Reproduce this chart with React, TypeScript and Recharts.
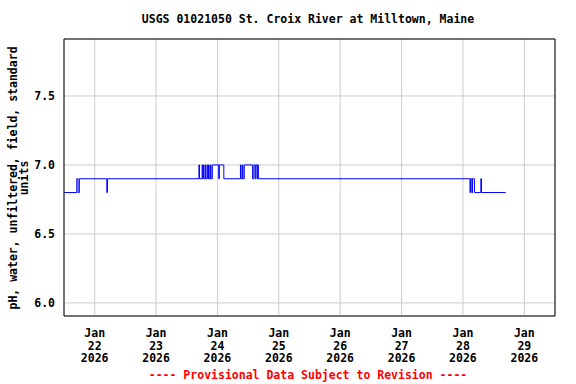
import React from "react";
import {
  LineChart,
  Line,
  XAxis,
  YAxis,
  CartesianGrid,
  ReferenceLine,
} from "recharts";

// change points of the 15-minute pH record (value holds until next time)
const times = [
  "2026-01-21T12:00",
  "2026-01-21T17:00",
  "2026-01-21T17:30",
  "2026-01-21T18:00",
  "2026-01-22T04:45",
  "2026-01-22T05:00",
  "2026-01-23T16:45",
  "2026-01-23T17:00",
  "2026-01-23T18:00",
  "2026-01-23T18:15",
  "2026-01-23T18:30",
  "2026-01-23T18:45",
  "2026-01-23T19:15",
  "2026-01-23T19:30",
  "2026-01-23T20:00",
  "2026-01-23T20:15",
  "2026-01-23T20:30",
  "2026-01-23T20:45",
  "2026-01-23T21:15",
  "2026-01-23T21:30",
  "2026-01-23T22:00",
  "2026-01-24T00:30",
  "2026-01-24T00:45",
  "2026-01-24T02:30",
  "2026-01-24T09:00",
  "2026-01-24T09:15",
  "2026-01-24T09:45",
  "2026-01-24T10:00",
  "2026-01-24T10:30",
  "2026-01-24T13:45",
  "2026-01-24T14:15",
  "2026-01-24T14:45",
  "2026-01-24T15:00",
  "2026-01-24T15:30",
  "2026-01-24T15:45",
  "2026-01-24T16:00",
  "2026-01-28T02:45",
  "2026-01-28T03:00",
  "2026-01-28T03:30",
  "2026-01-28T03:45",
  "2026-01-28T04:30",
  "2026-01-28T07:00",
  "2026-01-28T07:15",
  "2026-01-28T16:45",
];

const phValues = [
  6.8, 6.9, 6.8, 6.9, 6.8, 6.9,
  7.0, 6.9, 7.0, 6.9, 7.0, 6.9, 7.0, 6.9, 7.0, 6.9, 7.0, 6.9, 7.0, 6.9,
  7.0, 6.9, 7.0, 6.9,
  7.0, 6.9, 7.0, 6.9, 7.0, 6.9, 7.0, 6.9, 7.0, 6.9, 7.0, 6.9,
  6.8, 6.9, 6.8, 6.9, 6.8, 6.9, 6.8, 6.8,
];

const tickDays = [
  "2026-01-22",
  "2026-01-23",
  "2026-01-24",
  "2026-01-25",
  "2026-01-26",
  "2026-01-27",
  "2026-01-28",
  "2026-01-29",
];

const yTicks = [6.0, 6.5, 7.0, 7.5];
const yDomain = [5.905, 7.913];

const toMs = (s: string) => Date.parse(s.length === 10 ? s + "T00:00:00Z" : s + ":00Z");

const data = times.map((t, i) => ({ t: toMs(t), v: phValues[i] }));
const xTicks = tickDays.map(toMs);
const xDomain = [toMs("2026-01-21T12:00"), toMs("2026-01-29T12:00")];

const MONTHS = ["Jan", "Feb", "Mar", "Apr", "May", "Jun", "Jul", "Aug", "Sep", "Oct", "Nov", "Dec"];
const FONT = "'DejaVu Sans Mono', monospace";

function DateTick(props: any) {
  const { x, y, payload } = props;
  const d = new Date(payload.value);
  return (
    <text
      x={x}
      y={y}
      textAnchor="middle"
      fontFamily={FONT}
      fontWeight="bold"
      fontSize={11.5}
      fill="#000"
    >
      <tspan x={x} y={y + 19}>{MONTHS[d.getUTCMonth()]}</tspan>
      <tspan x={x} y={y + 31.5}>{d.getUTCDate()}</tspan>
      <tspan x={x} y={y + 44}>{d.getUTCFullYear()}</tspan>
    </text>
  );
}

export default function App() {
  return (
    <div style={{ position: "absolute", left: 0, top: 0, width: 576, height: 384, background: "#fff" }}>
      <LineChart
        width={576}
        height={384}
        data={data}
        margin={{ top: 39, right: 21, left: 0, bottom: 0 }}
      >
        <CartesianGrid stroke="#cccccc" strokeWidth={1} />
        <XAxis
          dataKey="t"
          type="number"
          scale="time"
          domain={xDomain}
          ticks={xTicks}
          allowDataOverflow
          height={68}
          tickLine={false}
          tickSize={0}
          axisLine={{ stroke: "#000" }}
          tick={<DateTick />}
          interval={0}
        />
        <YAxis
          dataKey="v"
          type="number"
          domain={yDomain}
          ticks={yTicks}
          allowDataOverflow
          width={64}
          tickLine={false}
          tickSize={6}
          tickMargin={3}
          axisLine={{ stroke: "#000" }}
          tickFormatter={(v) => v.toFixed(1)}
          tick={{ fontFamily: FONT, fontWeight: "bold", fontSize: 11.5, fill: "#000" }}
        />
        <ReferenceLine y={yDomain[1]} stroke="#000" strokeWidth={1} />
        <ReferenceLine x={xDomain[1]} stroke="#000" strokeWidth={1} />
        <Line
          type="stepAfter"
          dataKey="v"
          stroke="#0000ff"
          strokeWidth={1}
          dot={false}
          isAnimationActive={false}
        />
      </LineChart>
      <svg
        width={576}
        height={384}
        style={{ position: "absolute", left: 0, top: 0, pointerEvents: "none" }}
      >
        <text
          x={308}
          y={23}
          textAnchor="middle"
          fontFamily={FONT}
          fontWeight="bold"
          fontSize={11.5}
          fill="#000"
        >
          USGS 01021050 St. Croix River at Milltown, Maine
        </text>
        <text
          transform="translate(17,178) rotate(-90)"
          textAnchor="middle"
          fontFamily={FONT}
          fontWeight="bold"
          fontSize={11.5}
          fill="#000"
        >
          <tspan x={0} y={0}>pH, water, unfiltered, field, standard</tspan>
          <tspan x={0} y={11}>units</tspan>
        </text>
        <text
          x={308}
          y={379}
          textAnchor="middle"
          fontFamily={FONT}
          fontWeight="bold"
          fontSize={11.5}
          fill="#ff0000"
        >
          ---- Provisional Data Subject to Revision ----
        </text>
      </svg>
    </div>
  );
}
